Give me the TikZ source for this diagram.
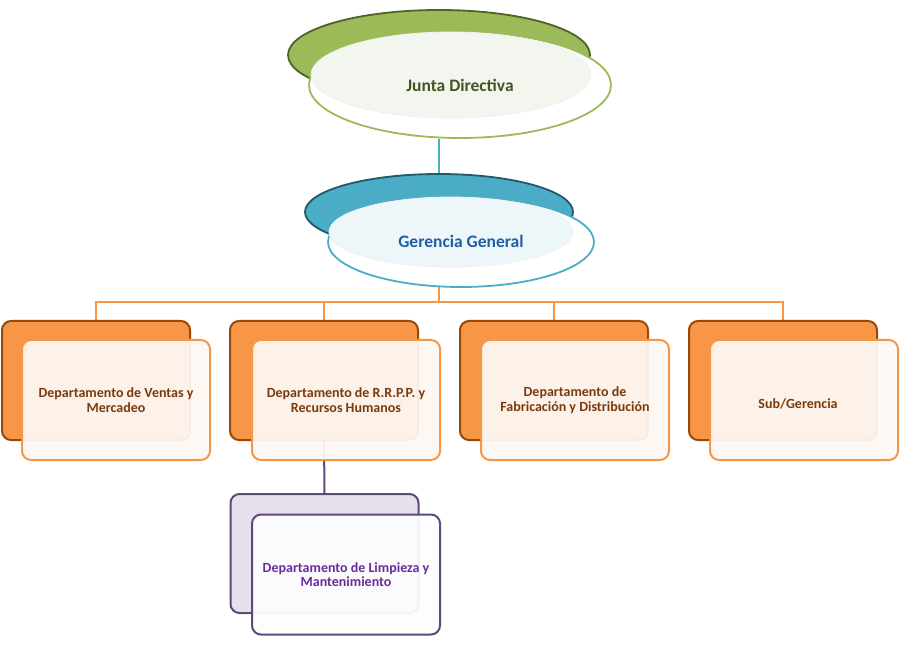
\documentclass[tikz,border=0pt]{standalone}
\usepackage{fontspec}
\setmainfont{Carlito}
\usetikzlibrary{shapes.geometric,backgrounds}
\definecolor{gback}{HTML}{9BBB59}
\definecolor{gdark}{HTML}{4F6228}
\definecolor{gin}{HTML}{F3F6EE}
\definecolor{gtext}{HTML}{435520}
\definecolor{bback}{HTML}{4BACC6}
\definecolor{bdark}{HTML}{215968}
\definecolor{bin}{HTML}{EDF6F9}
\definecolor{btext}{HTML}{1F5FA6}
\definecolor{oback}{HTML}{F79646}
\definecolor{odark}{HTML}{984807}
\definecolor{oin}{HTML}{FEF8F4}
\definecolor{otext}{HTML}{7A3A0E}
\definecolor{pback}{HTML}{E5E0EC}
\definecolor{pdark}{HTML}{5F497A}
\definecolor{pin}{HTML}{FDFCFE}
\definecolor{ptext}{HTML}{6A2C9A}
\begin{document}
\begin{tikzpicture}[x=1pt,y=-1pt,
  ellback/.style={ellipse,draw,line width=1.8pt,inner sep=0pt},
  ellfront/.style={ellipse,draw,line width=1.8pt,inner sep=0pt,fill=white},
  ellin/.style={ellipse,inner sep=0pt,draw=black!6,line width=0.8pt},
  ttl/.style={font=\fontsize{17.5}{19}\selectfont\bfseries},
  boxtxt/.style={font=\fontsize{14}{14.5}\selectfont\bfseries,align=center},
  boxback/.style={rectangle,rounded corners=9pt,draw,line width=2pt,minimum width=188,minimum height=119},
  boxfront/.style={rectangle,rounded corners=9pt,draw,line width=2pt,minimum width=188,minimum height=120,inner sep=0pt,fill opacity=0.94,text opacity=1,boxtxt},
  orgb/.style={boxback,fill=oback,draw=odark},
  orgf/.style={boxfront,fill=oin,draw=oback,text=otext},
  conn/.style={line width=2pt}
]
\useasboundingbox (0,0) rectangle (900,660);
% Junta Directiva
\node[ellback,fill=gback,draw=gdark,minimum width=302,minimum height=90] (jdb) at (439,55) {};
\node[ellfront,draw=gback,minimum width=302,minimum height=106] (jdf) at (460,85) {};
\node[ellin,fill=gin,minimum width=280,minimum height=86] (jdi) at (451,75) {};
\node[ttl,text=gtext] (jdt) at (460,85) {Junta Directiva};
% Gerencia General
\node[ellback,fill=bback,draw=bdark,minimum width=268,minimum height=76] (ggb) at (439,212) {};
\node[ellfront,draw=bback,minimum width=266,minimum height=90] (ggf) at (461,242) {};
\node[ellin,fill=bin,minimum width=244,minimum height=70] (ggi) at (451,232) {};
\node[ttl,text=btext] (ggt) at (461,241) {Gerencia General};
% Departments
\node[orgb] (b1b) at (96,380.5) {};
\node[orgf] (b1f) at (116,400) {Departamento de Ventas y\\Mercadeo};
\node[orgb] (b2b) at (324,380.5) {};
\node[orgf] (b2f) at (346,400) {Departamento de R.R.P.P. y\\Recursos Humanos};
\node[orgb] (b3b) at (554,380.5) {};
\node[orgf] (b3f) at (575,400) {Departamento de\\Fabricación y Distribución};
\node[orgb] (b4b) at (783,380.5) {};
\node[orgf] (b4f) at (804,400) {};
\node[boxtxt,text=otext] (b4t) at (798,404) {Sub/Gerencia};
\node[boxback,fill=pback,draw=pdark] (pb) at (324.5,553.5) {};
\node[boxfront,fill=pin,draw=pdark,text=ptext] (pf) at (346,574.5) {Departamento de Limpieza y\\Mantenimiento};
\coordinate (bus) at (0,302);
\begin{scope}[on background layer]
\draw[conn,draw=bback] (ggb.north) -- (ggb.north |- jdf.south);
\draw[conn,draw=oback] (ggb.south) -- (ggb.south |- bus);
\draw[conn,draw=oback] (b1b.north) -- (b1b.north |- bus) -- (b4b.north |- bus) -- (b4b.north);
\draw[conn,draw=oback] (b2b.north) -- (b2b.north |- bus);
\draw[conn,draw=oback] (b3b.north) -- (b3b.north |- bus);
\draw[conn,draw=pdark] (b2b.south) -- (pb.north);
\end{scope}
\end{tikzpicture}
\end{document}
